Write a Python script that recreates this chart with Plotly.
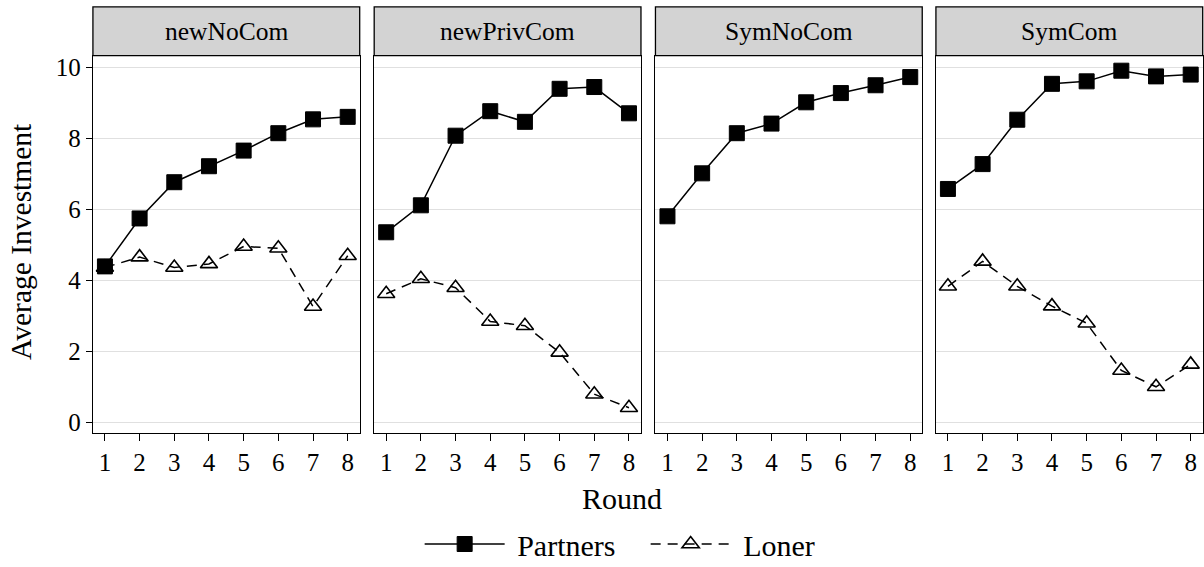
import plotly.graph_objects as go

rounds = [1, 2, 3, 4, 5, 6, 7, 8]
panels = ["newNoCom", "newPrivCom", "SymNoCom", "SymCom"]

partners_newNoCom = [4.39, 5.74, 6.76, 7.21, 7.65, 8.14, 8.53, 8.60]
loner_newNoCom = [4.36, 4.65, 4.36, 4.46, 4.95, 4.90, 3.26, 4.69]

partners_newPrivCom = [5.35, 6.11, 8.07, 8.76, 8.46, 9.39, 9.44, 8.70]
loner_newPrivCom = [3.62, 4.04, 3.79, 2.84, 2.72, 1.97, 0.79, 0.41]

partners_SymNoCom = [5.80, 7.01, 8.14, 8.41, 9.01, 9.27, 9.49, 9.72]

partners_SymCom = [6.57, 7.27, 8.52, 9.53, 9.60, 9.90, 9.74, 9.79]
loner_SymCom = [3.83, 4.53, 3.83, 3.27, 2.79, 1.46, 1.00, 1.63]

partners = [partners_newNoCom, partners_newPrivCom, partners_SymNoCom, partners_SymCom]
loners = [loner_newNoCom, loner_newPrivCom, None, loner_SymCom]

y_ticks = [0, 2, 4, 6, 8, 10]

W = 1204
H = 573  # figure slightly taller than the 567 window; bottom padding falls outside
FONT = "Liberation Serif"

# pixel geometry of panels (measured from the top-left of the window)
panel_left = [93, 374.5, 656, 936.7]
panel_w = 267
plot_top, plot_bot = 54, 435
strip_top = 5


def py(p):
    return (H - p) / H


fig = go.Figure()

for i, name in enumerate(panels):
    ax = "" if i == 0 else str(i + 1)
    xa, ya = "x" + ax, "y" + ax
    fig.add_trace(go.Scatter(
        x=rounds, y=partners[i], xaxis=xa, yaxis=ya, mode="lines+markers",
        name="\u00a0Partners", legendgroup="p", showlegend=(i == 0),
        line=dict(color="black", width=1.5),
        marker=dict(symbol="square", size=15, color="black",
                    line=dict(color="black", width=1)),
    ))
    if loners[i] is not None:
        fig.add_trace(go.Scatter(
            x=rounds, y=loners[i], xaxis=xa, yaxis=ya, mode="lines+markers",
            name="\u00a0Loner", legendgroup="l", showlegend=(i == 0),
            line=dict(color="black", width=1.5, dash="10px,7px"),
            marker=dict(symbol="triangle-up-open", size=15, color="black",
                        line=dict(color="black", width=1.6)),
        ))

    x0 = panel_left[i] / W
    x1 = (panel_left[i] + panel_w) / W
    fig.layout["xaxis" + ax] = dict(
        domain=[x0, x1], range=[0.654, 8.346], anchor=ya,
        tickvals=rounds, ticks="outside", ticklen=7, tickwidth=1.2, tickcolor="black",
        showgrid=False, zeroline=False, showline=True, linecolor="black",
        linewidth=1.3, mirror=True,
        tickfont=dict(family=FONT, size=25, color="black"),
    )
    fig.layout["yaxis" + ax] = dict(
        domain=[py(plot_bot), py(plot_top)], range=[-0.307, 10.327], anchor=xa,
        tickvals=y_ticks, ticks="outside" if i == 0 else "", ticklen=6,
        tickwidth=1.2, tickcolor="black", showticklabels=(i == 0),
        showgrid=True, gridcolor="#e0e0e0", gridwidth=1.2,
        zeroline=False, showline=True, linecolor="black", linewidth=1.3,
        mirror=True, tickfont=dict(family=FONT, size=25, color="black"),
    )
    # header strip
    fig.add_shape(type="rect", xref="paper", yref="paper",
                  x0=x0, x1=x1, y0=py(plot_top), y1=py(strip_top),
                  fillcolor="#d3d3d3", line=dict(color="black", width=1.3),
                  layer="below")
    fig.add_annotation(text=name, xref="paper", yref="paper",
                       x=(x0 + x1) / 2, y=py((plot_top + strip_top) / 2),
                       showarrow=False, xanchor="center", yanchor="middle",
                       font=dict(family=FONT, size=25.5, color="black"))

fig.add_annotation(text="Average Investment", xref="paper", yref="paper",
                   x=21 / W, y=py(241), textangle=-90,
                   showarrow=False, xanchor="center", yanchor="middle",
                   font=dict(family=FONT, size=29.5, color="black"))
fig.add_annotation(text="Round", xref="paper", yref="paper",
                   x=623 / W, y=py(501),
                   showarrow=False, xanchor="center", yanchor="middle",
                   font=dict(family=FONT, size=30, color="black"))

fig.update_layout(
    width=W, height=H,
    margin=dict(l=0, r=0, t=0, b=0),
    paper_bgcolor="white", plot_bgcolor="white",
    showlegend=True,
    legend=dict(orientation="h", x=420 / W, xanchor="left",
                y=0, yanchor="bottom", itemwidth=80,
                entrywidth=131, entrywidthmode="pixels",
                font=dict(family=FONT, size=30, color="black"),
                bgcolor="rgba(0,0,0,0)"),
)

fig.write_html("out.html", config={"displayModeBar": False},
               post_script="document.body.style.margin='0px';document.body.style.overflow='hidden';")
